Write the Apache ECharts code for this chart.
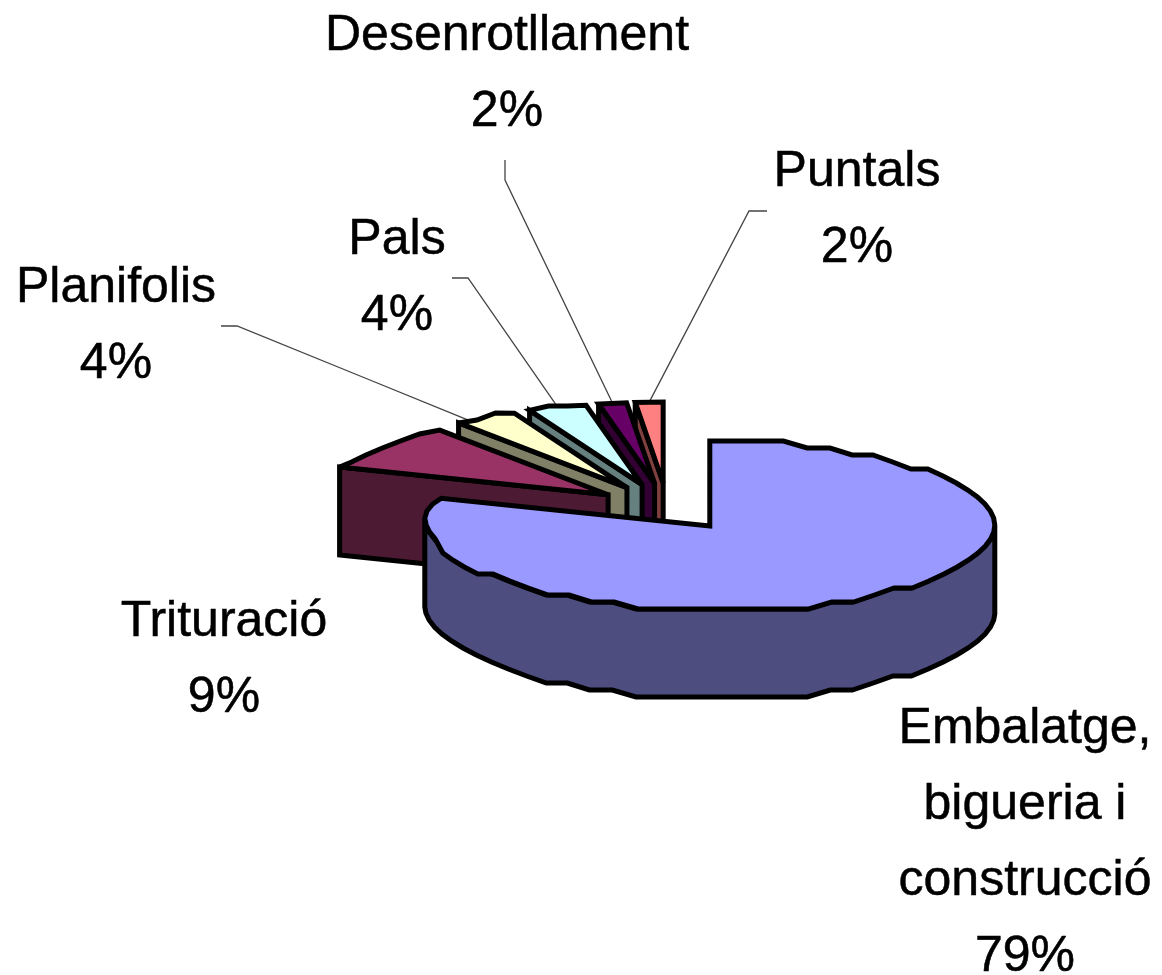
<!DOCTYPE html>
<html>
<head>
<meta charset="utf-8">
<style>html,body{margin:0;padding:0;background:#fff}#c{width:1162px;height:975px}</style>
<script src="https://cdn.jsdelivr.net/npm/echarts@6/dist/echarts.min.js"></script>
</head>
<body>
<div id="c"></div>
<script>
const categories = ['Embalatge,\nbigueria i\nconstrucció', 'Trituració', 'Planifolis', 'Pals', 'Desenrotllament', 'Puntals'];
const values = [79, 9, 4, 4, 2, 2];
const topColors = ['#9999FF', '#993366', '#FFFFCC', '#CCFFFF', '#660066', '#FF8080'];
const sideColors = ['#4D4D80', '#4D1A33', '#808066', '#668080', '#330033', '#804040'];

// label layout: block centre, elbow points of each leader line, where along the slice rim it lands
const labelPos = [[1025, 843], [224, 660], [116, 326], [397, 278], [507, 74], [857, 210]];
const leaderElbows = [null, null, [[221, 326], [237, 326], [365, 378]], [[452, 278], [468, 278]], [[505, 160], [505, 180]], [[767, 211], [749, 211]]];
const leaderRimFraction = [0, 0, 0.2, 0.5, 0.5, 0.5];

// pie projection
const CX = 667.5, CY = 507, RX = 285, RY = 85, DEPTH = 88, EXPLODE_X = 69, EXPLODE_Y = 24;
const BACK_SHRINK = 0.22, TILT = 7, BACK_DROP = 4, STEP_DEG = 5, SNAP = 7, STROKE = 5;
const total = values.reduce((a, b) => a + b, 0);
const rad = d => d * Math.PI / 180;

function sliceAngles(i) {
  const before = values.slice(0, i).reduce((a, b) => a + b, 0);
  return [before / total * 360, (before + values[i]) / total * 360];
}
function apexOf(i) {
  const [a, b] = sliceAngles(i), m = rad((a + b) / 2);
  return [CX + EXPLODE_X * Math.sin(m), CY - EXPLODE_Y * Math.cos(m)];
}
function rim(apex, deg) {
  const t = rad(deg), s = Math.sin(t), c = Math.cos(t);
  const left = deg > 180;
  const shrink = left ? 1 - BACK_SHRINK * Math.pow(Math.max(0, c), 1.5) : 1;
  const shift = left ? -TILT * s * s + BACK_DROP * Math.pow(Math.max(0, c), 6) : 0;
  return [apex[0] + RX * s * shrink, apex[1] - RY * c + shift];
}
function arc(apex, from, to, drop) {
  const pts = [];
  const n = Math.max(1, Math.round(Math.abs(to - from) / STEP_DEG));
  for (let k = 0; k <= n; k++) {
    const p = rim(apex, from + (to - from) * k / n);
    const y = (k === 0 || k === n) ? p[1] : Math.round(p[1] / SNAP) * SNAP;
    pts.push([p[0], y + (drop || 0)]);
  }
  return pts;
}
function poly(points, fill, z2) {
  return { type: 'polygon', shape: { points }, z2,
    style: { fill, stroke: '#000', lineWidth: STROKE, lineJoin: 'miter', miterLimit: 3 } };
}

function renderItem(params, api) {
  const i = params.dataIndex;
  const [a, b] = sliceAngles(i);
  const apex = apexOf(i);
  const order = (i === 0 ? categories.length : i === 1 ? categories.length - 1 : categories.length - i) * 10;
  const children = [];
  if (i === 0) {
    const wall = arc(apex, 90, 270, 0).concat(arc(apex, 270, 90, DEPTH));
    children.push(poly(wall, sideColors[i], order));
  } else {
    const outer = rim(apex, a);
    children.push(poly([apex, outer, [outer[0], outer[1] + DEPTH], [apex[0], apex[1] + DEPTH]], sideColors[i], order));
  }
  children.push(poly([apex].concat(arc(apex, a, b, 0)), topColors[i], order + 1));

  const elbows = leaderElbows[i];
  if (elbows) {
    const end = rim(apex, a + (b - a) * leaderRimFraction[i]);
    children.push({ type: 'polyline', shape: { points: elbows.concat([end]) }, z2: 1,
      style: { fill: null, stroke: '#444', lineWidth: 1.3 } });
  }
  children.push({ type: 'text', z2: 200, x: labelPos[i][0], y: labelPos[i][1],
    style: { text: categories[i] + '\n' + api.value(0) + '%', fill: '#000',
      stroke: '#000', lineWidth: 0.5,
      font: '50px "Liberation Sans", Arial, sans-serif', lineHeight: 76,
      align: 'center', verticalAlign: 'middle' } });
  return { type: 'group', children };
}

const chart = echarts.init(document.getElementById('c'), null, { renderer: 'canvas' });
chart.setOption({
  animation: false,
  backgroundColor: '#fff',
  series: [{
    type: 'custom',
    coordinateSystem: 'none',
    silent: true,
    clip: false,
    renderItem,
    data: values.map(v => [v])
  }]
});
</script>
</body>
</html>
